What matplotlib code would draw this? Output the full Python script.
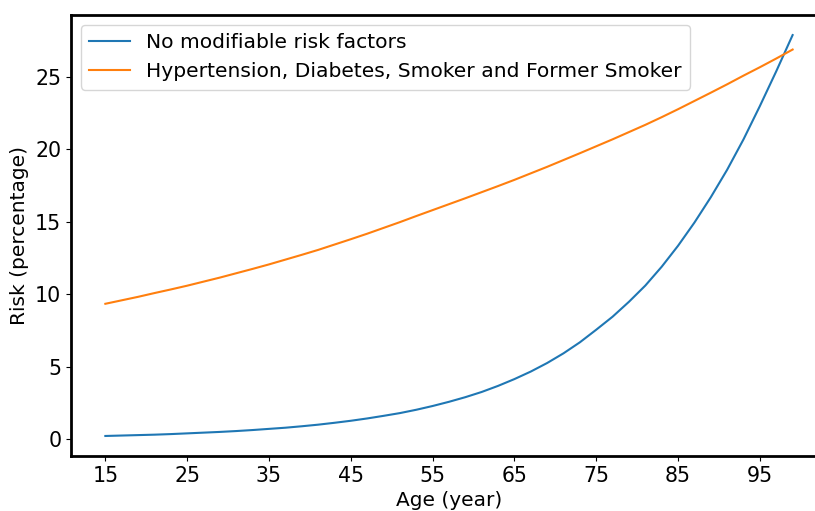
import numpy as np
import matplotlib
matplotlib.use("Agg")
from matplotlib import pyplot as plt

# age grid (years) and risk readings (percentage)
age = list(range(15, 100, 2))
risk_none = [0.21, 0.24, 0.27, 0.30, 0.34, 0.39, 0.44, 0.49, 0.55, 0.62,
             0.70, 0.78, 0.88, 0.99, 1.12, 1.26, 1.42, 1.60, 1.79, 2.02,
             2.28, 2.57, 2.89, 3.25, 3.67, 4.14, 4.66, 5.25, 5.92, 6.68,
             7.55, 8.45, 9.48, 10.6, 11.9, 13.35, 14.95, 16.7, 18.6, 20.7,
             23.0, 25.4, 27.9]
risk_all = [9.34, 9.58, 9.82, 10.08, 10.33, 10.59, 10.87, 11.15, 11.45,
            11.75, 12.06, 12.39, 12.72, 13.06, 13.43, 13.80, 14.18, 14.58,
            14.98, 15.40, 15.81, 16.22, 16.63, 17.05, 17.47, 17.90, 18.35,
            18.80, 19.27, 19.74, 20.22, 20.70, 21.20, 21.70, 22.23, 22.78,
            23.35, 23.92, 24.50, 25.10, 25.68, 26.28, 26.90]
xticks = [15, 25, 35, 45, 55, 65, 75, 85, 95]

plt.rcParams['font.size'] = 14.8

fig = plt.figure(figsize=(8.15, 5.11), dpi=100)
# the original picture is cropped on the right, the axes run past the edge
ax = fig.add_axes([0.0871, 0.1076, 0.9276, 0.863])
ax.plot(age, risk_none, color='#1f77b4', lw=1.5, label='No modifiable risk factors')
ax.plot(age, risk_all, color='#ff7f0e', lw=1.5,
        label='Hypertension, Diabetes, Smoker and Former Smoker')
ax.set_xticks(xticks)
ax.set_xlabel('Age (year)', fontsize=14.5)
ax.set_ylabel('Risk (percentage)', fontsize=14.5)
for s in ax.spines.values():
    s.set_linewidth(2)
ax.spines['right'].set_visible(False)
ax.legend(loc='upper left', fontsize=14.6)
fig.savefig('out.png', dpi=100)
